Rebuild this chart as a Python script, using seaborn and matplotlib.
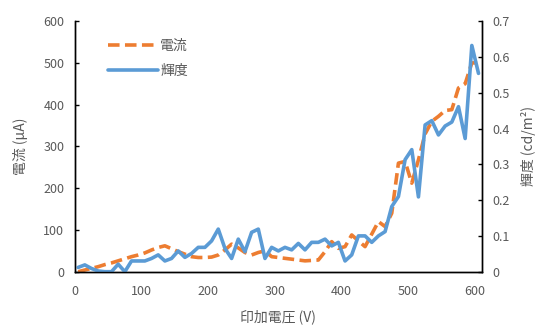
import matplotlib
matplotlib.use("Agg")
import matplotlib.pyplot as plt
import seaborn as sns

# 印加電圧 (V)
voltage = [5, 15, 25, 35, 45, 55, 65, 75, 85, 95,
           105, 115, 125, 135, 145, 155, 165, 175, 185, 195,
           205, 215, 225, 235, 245, 255, 265, 275, 285, 295,
           305, 315, 325, 335, 345, 355, 365, 375, 385, 395,
           405, 415, 425, 435, 445, 455, 465, 475, 485, 495,
           505, 515, 525, 535, 545, 555, 565, 575, 585, 595, 605]

# 電流 (uA)
current = [0, 4, 8, 12, 17, 21, 26, 31, 36, 40,
           45, 52, 58, 62, 55, 48, 42, 36, 34, 34,
           35, 40, 52, 66, 57, 46, 40, 46, 50, 36,
           34, 32, 30, 28, 26, 27, 28, 48, 72, 56,
           60, 88, 74, 60, 90, 120, 108, 140, 260, 264,
           212, 268, 330, 360, 372, 386, 388, 440, 450, 500, 500]

# 輝度 (cd/m2)
luminance = [0.012, 0.019, 0.009, 0.002, 0.0, 0.0, 0.021, 0.0, 0.030, 0.030,
             0.030, 0.037, 0.047, 0.030, 0.037, 0.058, 0.040, 0.051, 0.068, 0.068,
             0.086, 0.119, 0.065, 0.037, 0.091, 0.056, 0.110, 0.119, 0.037, 0.068,
             0.058, 0.068, 0.061, 0.079, 0.061, 0.082, 0.082, 0.091, 0.072, 0.082,
             0.030, 0.047, 0.100, 0.100, 0.082, 0.100, 0.112, 0.182, 0.210, 0.313,
             0.341, 0.209, 0.410, 0.422, 0.382, 0.407, 0.418, 0.461, 0.372, 0.632, 0.554]

left_ticks = [0, 100, 200, 300, 400, 500, 600]
right_ticks = [0, 0.1, 0.2, 0.3, 0.4, 0.5, 0.6, 0.7]
right_labels = ["0", "0.1", "0.2", "0.3", "0.4", "0.5", "0.6", "0.7"]
x_ticks = [0, 100, 200, 300, 400, 500, 600]

orange = "#ED7D31"
blue = "#5B9BD5"
gray = "#595959"

sns.set_style("white")
plt.rcParams["font.family"] = ["Noto Sans CJK JP", "DejaVu Sans"]

fig = plt.figure(figsize=(5.42, 3.25), dpi=100)
ax = fig.add_axes([0.138, 0.164, 0.751, 0.771])
ax2 = ax.twinx()

sns.lineplot(x=voltage, y=current, ax=ax, color=orange, linewidth=2.6,
             label="電流", legend=False)
ax.lines[0].set_dashes((3.2, 1.5))
sns.lineplot(x=voltage, y=luminance, ax=ax2, color=blue, linewidth=2.6,
             label="輝度", legend=False)

ax.set_xlim(0, 610)
ax.set_ylim(0, 600)
ax2.set_ylim(0, 0.7)
ax.set_xticks(x_ticks)
ax.set_yticks(left_ticks)
ax2.set_yticks(right_ticks)
ax2.set_yticklabels(right_labels)

for a in (ax, ax2):
    a.tick_params(direction="in", length=3, width=1, colors="black",
                  labelcolor=gray, labelsize=9)
    a.tick_params(axis="y", pad=7.5)
    a.tick_params(axis="x", pad=9.5)
    for side in ("left", "right", "bottom"):
        a.spines[side].set_color("black")
        a.spines[side].set_linewidth(1)
    a.spines["top"].set_visible(False)
    a.grid(False)

ax.set_xlabel("印加電圧 (V)", fontsize=10, color=gray, labelpad=8)
ax.set_ylabel("電流 (μA)", fontsize=10, color=gray, labelpad=11)
ax2.set_ylabel("輝度 (cd/m²)", fontsize=10, color=gray, labelpad=8)

handles = ax.get_lines()[:1] + ax2.get_lines()[:1]
ax2.legend(handles, ["電流", "輝度"], loc="upper left",
           bbox_to_anchor=(0.05, 0.98), frameon=False, fontsize=10,
           handlelength=3.6, handletextpad=0.2, labelspacing=0.8,
           labelcolor=gray)

fig.savefig("out.png", dpi=100)
